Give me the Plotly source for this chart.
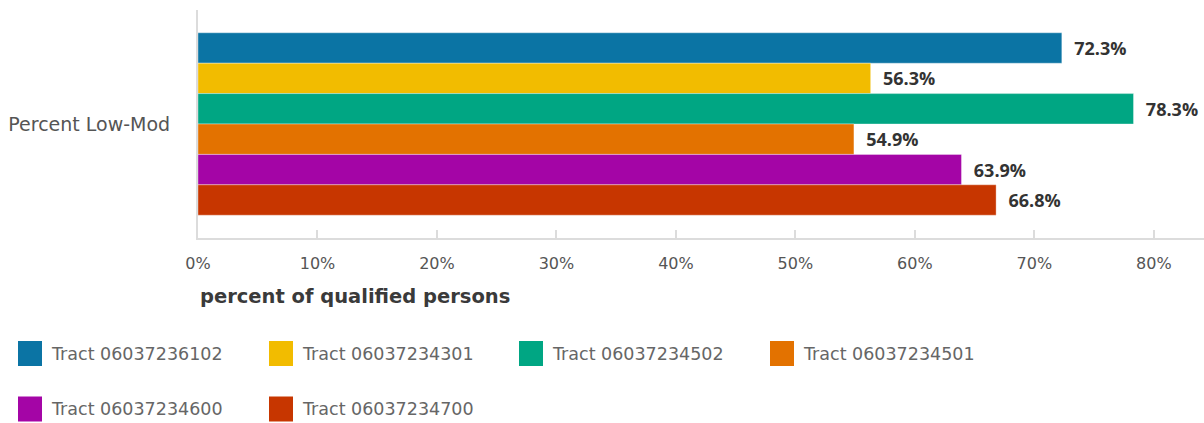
import plotly.graph_objects as go

# Data
category = ["Percent Low-Mod"]
tracts = [
    "Tract 06037236102",
    "Tract 06037234301",
    "Tract 06037234502",
    "Tract 06037234501",
    "Tract 06037234600",
    "Tract 06037234700",
]
values = [72.3, 56.3, 78.3, 54.9, 63.9, 66.8]
colors = ["#0B74A4", "#F2BC00", "#00A683", "#E37200", "#A405A6", "#C73600"]
x_ticks = [0, 10, 20, 30, 40, 50, 60, 70, 80]
x_tick_labels = [f"{t}%" for t in x_ticks]

W, H = 1204, 423
ML, MR, MT, MB = 198, 0, 10, 185
PW, PH = W - ML - MR, H - MT - MB

FONT = "DejaVu Sans"
GRID = "#dcdcdc"


def px_x(x):
    return (x - ML) / PW


def px_y(y):
    return (H - MB - y) / PH


fig = go.Figure()
for name, val, col in zip(tracts, values, colors):
    fig.add_trace(
        go.Bar(
            y=category,
            x=[val],
            name=name,
            orientation="h",
            marker=dict(color=col, line=dict(color="rgba(255,255,255,0.35)", width=1)),
            text=[f"\u00a0\u00a0{val:.1f}%"],
            textposition="outside",
            outsidetextfont=dict(family="Open Sans", size=18, color="#333333", weight="bold"),
            cliponaxis=False,
            showlegend=False,
            hoverinfo="skip",
        )
    )

fig.update_layout(
    width=W,
    height=H,
    margin=dict(l=ML, r=MR, t=MT, b=MB, pad=0),
    barmode="group",
    bargap=0.2,
    bargroupgap=0,
    plot_bgcolor="white",
    paper_bgcolor="white",
    showlegend=False,
    font=dict(family=FONT, color="#555555"),
)

fig.update_xaxes(
    range=[0, 84.2],
    tickvals=x_ticks,
    ticktext=x_tick_labels,
    showgrid=False,
    zeroline=False,
    showline=True,
    linecolor=GRID,
    linewidth=2,
    ticks="inside",
    ticklen=8,
    tickwidth=2,
    tickcolor=GRID,
    tickfont=dict(family=FONT, size=16, color="#555555"),
    ticklabelstandoff=10,
)
fig.update_yaxes(
    autorange="reversed",
    showgrid=False,
    zeroline=False,
    showline=True,
    linecolor=GRID,
    linewidth=2,
    ticks="",
    tickfont=dict(family=FONT, size=19, color="#555555"),
    ticklabelstandoff=22,
)

# Axis title, left-aligned under the axis
fig.add_annotation(
    x=0, y=px_y(296), xref="paper", yref="paper",
    xanchor="left", yanchor="middle",
    text="<b>percent of qualified persons</b>",
    showarrow=False,
    font=dict(family=FONT, size=19.5, color="#3a3a3a"),
)

# Legend: swatches and labels in two rows of four columns
col_x = [18, 269, 519, 770]
row_y = [353.5, 409]
for i, (name, col) in enumerate(zip(tracts, colors)):
    cx = col_x[i % 4]
    cy = row_y[i // 4]
    fig.add_shape(
        type="rect", xref="paper", yref="paper",
        x0=px_x(cx), x1=px_x(cx + 24),
        y0=px_y(cy - 12.5), y1=px_y(cy + 12.5),
        fillcolor=col, line=dict(width=0),
    )
    fig.add_annotation(
        x=px_x(cx + 31), y=px_y(cy), xref="paper", yref="paper",
        xanchor="left", yanchor="middle",
        text=name, showarrow=False,
        font=dict(family=FONT, size=17.5, color="#666666"),
    )

fig.write_html("out.html")
